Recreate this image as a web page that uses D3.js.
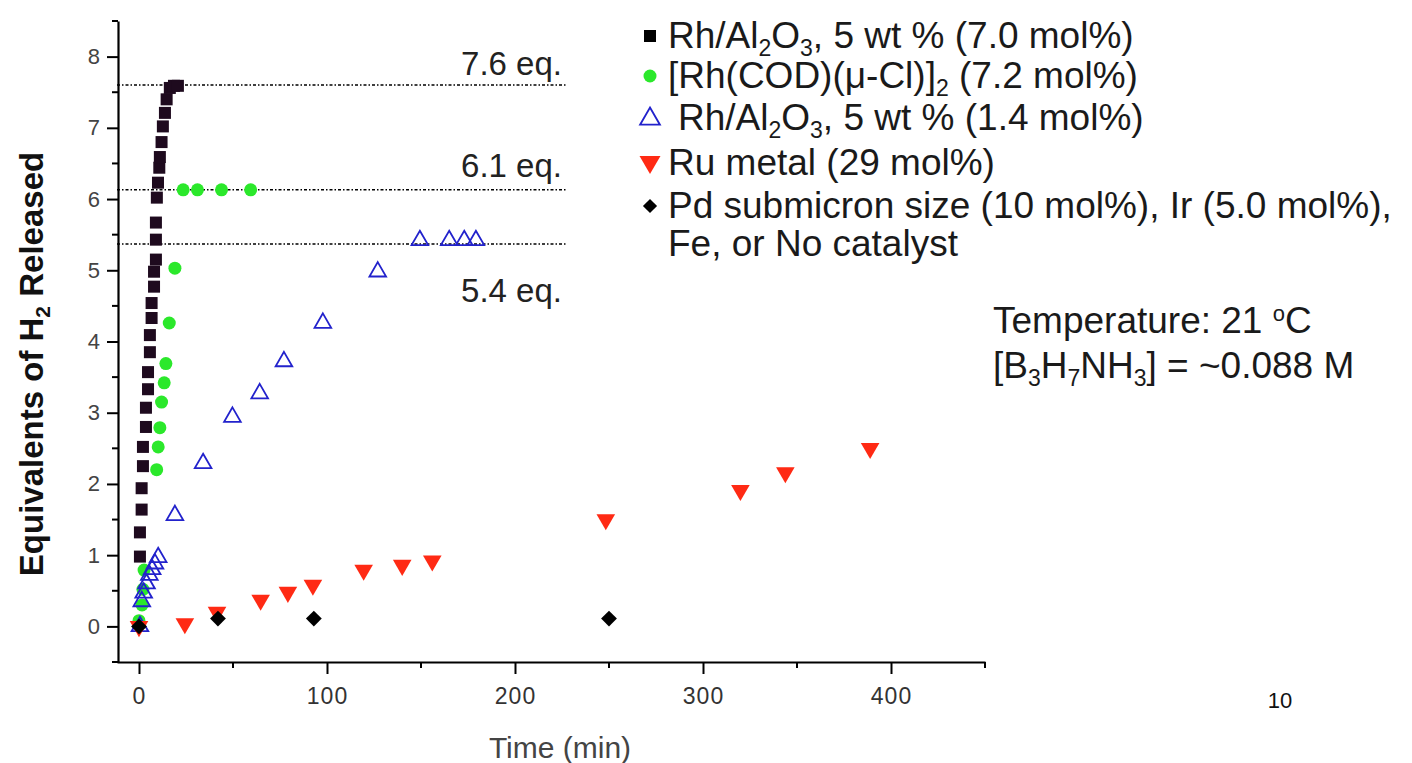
<!DOCTYPE html>
<html>
<head>
<meta charset="utf-8">
<script src="https://cdn.jsdelivr.net/npm/d3@7"></script>
<style>
  html, body { margin: 0; padding: 0; background: #fff; }
  svg { display: block; }
  text { font-family: Arial, "Liberation Sans", sans-serif; }
</style>
</head>
<body>
<svg id="chart" width="1412" height="763"></svg>
<script>
// ---------- DATA ----------
// Rh/Al2O3, 5 wt % (7.0 mol%)
const rhHighTime = [0.5, 0.5, 1.4, 1.4, 2.1, 2.1, 3.7, 3.7, 4.8, 4.8, 5.8, 5.8, 6.7, 6.7, 8.0, 8.0, 9.0, 9.0, 9.0, 9.5, 10.1, 10.8, 11.1, 12.0, 12.7, 13.8, 14.7, 16.4, 18.6, 20.7];
const rhHighEq   = [0.98, 1.32, 1.64, 1.94, 2.25, 2.52, 2.80, 3.07, 3.33, 3.57, 3.85, 4.09, 4.33, 4.54, 4.77, 4.98, 5.15, 5.43, 5.67, 6.02, 6.23, 6.44, 6.59, 6.80, 7.02, 7.21, 7.40, 7.56, 7.59, 7.59];
// [Rh(COD)(mu-Cl)]2 (7.2 mol%)
const rhCodTime = [0, 1.6, 2.1, 2.7, 9.4, 10.2, 11.1, 12.0, 13.4, 14.3, 16.1, 19.1, 23.5, 31.1, 43.9, 59.4];
const rhCodEq   = [0.08, 0.30, 0.52, 0.79, 2.20, 2.52, 2.79, 3.15, 3.42, 3.69, 4.26, 5.03, 6.13, 6.13, 6.13, 6.13];
// Rh/Al2O3, 5 wt % (1.4 mol%)
const rhLowTime = [0.5, 1.5, 2.5, 4.0, 5.5, 7.0, 8.5, 10.2, 19.1, 34.1, 49.7, 64.2, 77.1, 97.8, 127, 149.4, 165, 173, 179.2];
const rhLowEq   = [0.0, 0.35, 0.47, 0.60, 0.72, 0.80, 0.88, 0.97, 1.56, 2.29, 2.94, 3.27, 3.72, 4.26, 4.98, 5.42, 5.42, 5.42, 5.42];
// Ru metal (29 mol%)
const ruTime = [0, 24.4, 41.5, 64.7, 79.2, 92.5, 119.5, 140, 156, 248.3, 319.9, 343.8, 388.9];
const ruEq   = [0.0, 0.04, 0.20, 0.37, 0.48, 0.58, 0.79, 0.86, 0.92, 1.50, 1.91, 2.16, 2.50];
// Pd, Ir, Fe, or no catalyst
const pdTime = [0, 42, 93, 250];
const pdEq   = [0.0, 0.11, 0.11, 0.11];

// reference plateau lines
const refValues = [7.6, 6.13, 5.37];
const refLabels = ["7.6 eq.", "6.1 eq.", "5.4 eq."];
const refEndTime = 227;

// axis ticks
const xMajorTicks = [0, 100, 200, 300, 400];
const xMinorTicks = [50, 150, 250, 350, 450];
const yMajorTicks = [0, 1, 2, 3, 4, 5, 6, 7, 8];
const yMinorTicks = [-0.5, 0.5, 1.5, 2.5, 3.5, 4.5, 5.5, 6.5, 7.5, 8.5];

// ---------- CHART ----------
const svg = d3.select("#chart");
svg.append("rect").attr("width", 1412).attr("height", 763).attr("fill", "#fff");

const x = d3.scaleLinear().domain([-11.7, 450]).range([117, 985]);
const y = d3.scaleLinear().domain([-0.5, 8.5]).range([662, 21]);

// X axis
const xAxisG = svg.append("g").attr("transform", "translate(0,662)");
xAxisG.call(d3.axisBottom(x).tickValues(xMajorTicks).tickSize(12).tickSizeOuter(0).tickPadding(14).tickFormat(d3.format("d")));
xAxisG.append("g").selectAll("line").data(xMinorTicks).join("line")
  .attr("x1", d => x(d)).attr("x2", d => x(d)).attr("y1", 0).attr("y2", 6)
  .attr("stroke", "#000").attr("stroke-width", 2);
xAxisG.select(".domain").attr("stroke", "#000").attr("stroke-width", 2.2);
xAxisG.selectAll(".tick line").attr("stroke", "#000").attr("stroke-width", 2);
xAxisG.selectAll(".tick text").attr("font-size", 23).attr("fill", "#333")
  .attr("font-family", "'Liberation Sans Narrow', 'DejaVu Sans Condensed', Arial, sans-serif")
  .attr("letter-spacing", "1px");

// Y axis
const yAxisG = svg.append("g").attr("transform", "translate(118,0)");
yAxisG.call(d3.axisLeft(y).tickValues(yMajorTicks).tickSize(11).tickSizeOuter(0).tickPadding(7).tickFormat(d3.format("d")));
yAxisG.append("g").selectAll("line").data(yMinorTicks).join("line")
  .attr("x1", 0).attr("x2", -6).attr("y1", d => y(d)).attr("y2", d => y(d))
  .attr("stroke", "#000").attr("stroke-width", 2);
yAxisG.select(".domain").attr("stroke", "#000").attr("stroke-width", 2.2);
yAxisG.selectAll(".tick line").attr("stroke", "#000").attr("stroke-width", 2);
yAxisG.selectAll(".tick text").attr("font-size", 22).attr("fill", "#444");

// rich text helper: segments [text, shift] where shift = "sub" | "sup" | null
function richText(sel, segments, size, subSize) {
  let cur = 0;
  segments.forEach(([s, kind]) => {
    const target = kind === "sub" ? 0.22 * size : kind === "sup" ? -0.32 * size : 0;
    const ts = sel.append("tspan").attr("dy", target - cur).text(s);
    if (kind) ts.attr("font-size", subSize);
    cur = target;
  });
}

// axis titles
svg.append("text")
  .attr("x", 560).attr("y", 758)
  .attr("text-anchor", "middle")
  .attr("font-size", 30)
  .attr("fill", "#444")
  .attr("font-family", "'Liberation Sans Narrow', 'DejaVu Sans Condensed', Arial, sans-serif")
  .text("Time (min)");

const yTitle = svg.append("text")
  .attr("transform", "translate(43,364) rotate(-90)")
  .attr("text-anchor", "middle")
  .attr("font-size", 33)
  .attr("font-weight", "bold")
  .attr("fill", "#111");
richText(yTitle, [["Equivalents of H", null], ["2", "sub"], [" Released", null]], 33, 21);

// reference lines
svg.append("g").selectAll("line").data(refValues).join("line")
  .attr("x1", x(-11.7)).attr("x2", x(refEndTime))
  .attr("y1", d => y(d)).attr("y2", d => y(d))
  .attr("stroke", "#000").attr("stroke-width", 1.5)
  .attr("stroke-dasharray", "3,2,1.5,2");

const refLabelBaseline = [y(refValues[0]) - 10, y(refValues[1]) - 13, y(refValues[2]) + 58];
svg.append("g").selectAll("text").data(refLabels).join("text")
  .attr("x", 562).attr("y", (d, i) => refLabelBaseline[i])
  .attr("text-anchor", "end")
  .attr("font-size", 33)
  .attr("fill", "#222")
  .text(d => d);

// markers
const sqSize = 12;
const gSeries = svg.append("g");

gSeries.append("g").selectAll("rect").data(d3.zip(rhHighTime, rhHighEq)).join("rect")
  .attr("x", d => x(d[0]) - sqSize / 2).attr("y", d => y(d[1]) - sqSize / 2)
  .attr("width", sqSize).attr("height", sqSize)
  .attr("fill", "#1e0a1e");

gSeries.append("g").selectAll("circle").data(d3.zip(rhCodTime, rhCodEq)).join("circle")
  .attr("cx", d => x(d[0])).attr("cy", d => y(d[1])).attr("r", 6.5)
  .attr("fill", "#2be82b");

const triUp = d3.symbol().type(d3.symbolTriangle).size(120);
gSeries.append("g").selectAll("path").data(d3.zip(rhLowTime, rhLowEq)).join("path")
  .attr("d", triUp)
  .attr("transform", d => `translate(${x(d[0])},${y(d[1])})`)
  .attr("fill", "none").attr("stroke", "#2222cc").attr("stroke-width", 1.8);

const triDown = d3.symbol().type(d3.symbolTriangle).size(150);
gSeries.append("g").selectAll("path").data(d3.zip(ruTime, ruEq)).join("path")
  .attr("d", triDown)
  .attr("transform", d => `translate(${x(d[0])},${y(d[1])}) rotate(180)`)
  .attr("fill", "#ff2a14");

const diamond = d3.symbol().type(d3.symbolSquare).size(125);
gSeries.append("g").selectAll("path").data(d3.zip(pdTime, pdEq)).join("path")
  .attr("d", diamond)
  .attr("transform", d => `translate(${x(d[0])},${y(d[1])}) rotate(45)`)
  .attr("fill", "#000");

// ---------- LEGEND ----------
const legX = 650, legTextX = 668, legFont = 37, subFont = 23;
const legBaselines = [48, 88, 130, 175, 218, 256];
const leg = svg.append("g").attr("font-size", legFont).attr("fill", "#1a1a1a");

leg.append("rect").attr("x", legX - 6).attr("y", legBaselines[0] - 18).attr("width", 12).attr("height", 12).attr("fill", "#000");
richText(leg.append("text").attr("x", legTextX).attr("y", legBaselines[0]),
  [["Rh/Al", null], ["2", "sub"], ["O", null], ["3", "sub"], [", 5 wt % (7.0 mol%)", null]], legFont, subFont);

leg.append("circle").attr("cx", legX).attr("cy", legBaselines[1] - 12).attr("r", 6.5).attr("fill", "#2be82b");
richText(leg.append("text").attr("x", legTextX).attr("y", legBaselines[1]),
  [["[Rh(COD)(μ-Cl)]", null], ["2", "sub"], [" (7.2 mol%)", null]], legFont, subFont);

leg.append("path").attr("d", d3.symbol().type(d3.symbolTriangle).size(170))
  .attr("transform", `translate(${legX},${legBaselines[2] - 11})`)
  .attr("fill", "none").attr("stroke", "#2222cc").attr("stroke-width", 1.8);
richText(leg.append("text").attr("x", legTextX + 10).attr("y", legBaselines[2]),
  [["Rh/Al", null], ["2", "sub"], ["O", null], ["3", "sub"], [", 5 wt % (1.4 mol%)", null]], legFont, subFont);

leg.append("path").attr("d", d3.symbol().type(d3.symbolTriangle).size(190))
  .attr("transform", `translate(${legX},${legBaselines[3] - 13}) rotate(180)`)
  .attr("fill", "#ff2a14");
leg.append("text").attr("x", legTextX).attr("y", legBaselines[3]).text("Ru metal (29 mol%)");

leg.append("path").attr("d", d3.symbol().type(d3.symbolSquare).size(100))
  .attr("transform", `translate(${legX},${legBaselines[4] - 12}) rotate(45)`)
  .attr("fill", "#000");
leg.append("text").attr("x", legTextX).attr("y", legBaselines[4]).text("Pd submicron size (10 mol%), Ir (5.0 mol%),");
leg.append("text").attr("x", legTextX).attr("y", legBaselines[5]).text("Fe, or No catalyst");

// conditions
const cond = svg.append("g").attr("font-size", legFont).attr("fill", "#1a1a1a");
richText(cond.append("text").attr("x", 993).attr("y", 333),
  [["Temperature: 21 ", null], ["o", "sup"], ["C", null]], legFont, 22);
richText(cond.append("text").attr("x", 993).attr("y", 378),
  [["[B", null], ["3", "sub"], ["H", null], ["7", "sub"], ["NH", null], ["3", "sub"], ["] = ~0.088 M", null]], legFont, subFont);

// page number
svg.append("text").attr("x", 1280).attr("y", 708).attr("text-anchor", "middle")
  .attr("font-family", "'Liberation Serif', 'Times New Roman', serif")
  .attr("font-size", 22).attr("fill", "#111").text("10");
</script>
</body>
</html>
